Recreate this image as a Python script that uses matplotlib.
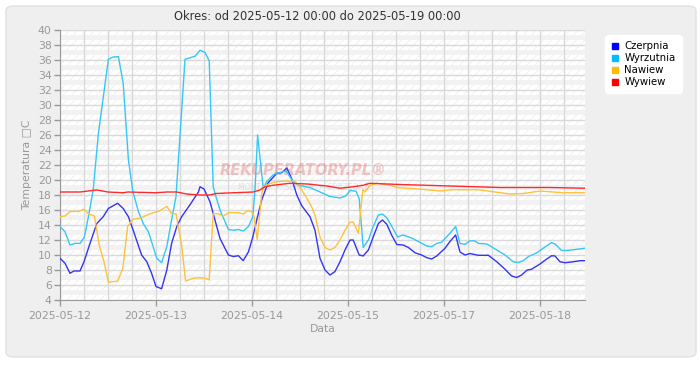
import matplotlib.pyplot as plt
from matplotlib.lines import Line2D
from matplotlib.patches import FancyBboxPatch, Rectangle

# x = hours from 2025-05-12 00:00 along the axis (05-16 has no data, so it is skipped)
czerpnia_h = [0, 1.25, 2.5, 3.5, 5, 6, 7.5, 9.2, 10.8, 12.1, 14.4, 15.8, 17.1, 18.3,
              20.4, 21.7, 22.9, 24, 25.4, 26.7, 27.9, 29.2, 30.4, 32.5, 34.6, 35, 36,
              37.5, 40, 42.1, 43.3, 44.6, 45.8, 47.1, 48.2, 49.2, 50.4, 52, 54.2, 55.5,
              56.7, 57.9, 59.2, 60.4, 62.5, 63.75, 65, 66.25, 67.5, 68.75, 70, 71.25,
              72.5, 73.3, 74.8, 75.8, 77.1, 78.3, 79.6, 80.6, 81.7, 82.9, 84.2, 85.8,
              87.1, 88.75, 90.4, 91.7, 92.9, 94.2, 96.25, 97.5, 98.9, 100, 101.25,
              102.5, 104.6, 107.1, 109.2, 111.25, 112.9, 114.2, 115.4, 116.8, 117.9,
              120, 121.7, 122.9, 123.75, 125, 126.25, 128.3, 130, 131.25]
czerpnia = [9.56, 8.9, 7.56, 7.87, 7.87, 9.1, 11.55, 14.2, 15.1, 16.2, 16.9, 16.2, 15.1,
            13.3, 10.0, 9.1, 7.56, 5.8, 5.5, 8.0, 11.55, 13.8, 15.1, 16.7, 18.4, 19.1,
            18.8, 17.1, 12.2, 10.0, 9.8, 9.9, 9.25, 10.4, 12.4, 14.7, 17.3, 19.6, 20.9,
            21.0, 21.6, 20.2, 18.0, 16.6, 15.1, 13.3, 9.56, 8.0, 7.33, 7.8, 9.1, 10.67,
            12.0, 12.0, 10.0, 9.87, 10.67, 12.4, 14.2, 14.67, 14.1, 12.67, 11.4, 11.33,
            11.0, 10.3, 10.0, 9.64, 9.47, 9.87, 10.9, 11.8, 12.67, 10.4, 10.0, 10.2,
            9.96, 9.96, 9.1, 8.1, 7.2, 7.0, 7.33, 8.0, 8.1, 8.8, 9.47, 9.9, 9.87, 9.1,
            8.97, 9.1, 9.24, 9.24]

wyrzutnia_h = [0, 1.25, 2.5, 3.75, 5, 6.1, 7.1, 8.3, 9.6, 12.1, 13.3, 14.6, 15.8, 17.1,
               18.2, 19.6, 20.8, 22.1, 24.2, 25.4, 26.7, 27.9, 29, 31.25, 33.75, 35,
               36.25, 37.3, 38.3, 38.75, 40, 42.1, 43.3, 44.6, 45.8, 47.1, 48.2, 48.75,
               49.4, 50.8, 51.7, 53.3, 55, 56.5, 58, 59.5, 62.5, 65, 67.5, 70, 71.5,
               72.5, 74, 74.8, 75.8, 77.1, 78.3, 79.6, 80.6, 81.8, 83.2, 84.4, 85.7,
               87.5, 89.6, 91.7, 92.9, 94.2, 95.4, 97.5, 98.9, 100, 101.25, 102.5,
               103.75, 104.6, 106.7, 109.2, 111.25, 113.3, 114.6, 115.8, 117.1, 119.2,
               120.8, 122.9, 123.75, 125.4, 126.7, 129.2, 131.25]
wyrzutnia = [13.8, 13.1, 11.33, 11.55, 11.55, 12.4, 15.1, 18.7, 26.2, 36.1, 36.4, 36.45,
             32.9, 22.7, 18.5, 15.8, 14.2, 13.1, 9.56, 8.98, 11.1, 14.7, 17.8, 36.1,
             36.5, 37.3, 37.0, 35.9, 19.1, 18.2, 16.0, 13.4, 13.3, 13.4, 13.2, 13.8,
             15.1, 18.7, 26.0, 18.9, 19.8, 20.7, 21.0, 21.2, 20.0, 19.3, 19.0, 18.4,
             17.8, 17.6, 17.9, 18.6, 18.5, 17.5, 11.0, 12.0, 13.8, 15.33, 15.47, 14.9,
             13.56, 12.4, 12.67, 12.36, 11.8, 11.2, 11.1, 11.55, 11.7, 12.9, 13.8,
             11.55, 11.4, 11.9, 11.87, 11.55, 11.47, 10.67, 10.0, 9.1, 9.0, 9.24, 9.78,
             10.3, 10.9, 11.65, 11.47, 10.6, 10.6, 10.76, 10.9]

nawiew_h = [0, 1.25, 2.5, 4.6, 6, 7.1, 8.6, 9.8, 11, 12.1, 14.4, 15.7, 16.9, 18.2, 20,
            22.5, 25, 26.7, 27.9, 29, 30.4, 31.4, 33.3, 35, 36.25, 37.3, 38.3, 39.6,
            40.8, 42.1, 44.6, 45.8, 46.8, 47.9, 48.5, 49.3, 50.4, 50.8, 53.3, 56.25,
            58.75, 59.6, 60.4, 61.7, 62.9, 63.75, 65, 66.25, 67.5, 68.75, 70, 71.25,
            72.5, 73.3, 74.6, 75.7, 76.25, 77.5, 79.2, 82.5, 84.2, 91.7, 95, 98,
            104.6, 112.5, 115.8, 120, 123.3, 125.8, 131.25]
nawiew = [15.1, 15.2, 15.8, 15.8, 16.1, 15.5, 15.2, 11.33, 9.1, 6.36, 6.53, 8.2, 13.8,
          14.76, 14.9, 15.5, 15.9, 16.5, 15.5, 15.5, 11.33, 6.53, 6.9, 6.97, 6.9, 6.67,
          15.56, 15.47, 15.2, 15.64, 15.64, 15.47, 15.9, 15.8, 15.1, 12.1, 18.0, 19.1,
          19.7, 19.87, 19.8, 19.3, 18.7, 17.56, 16.44, 15.33, 12.4, 11.0, 10.67, 11.0,
          12.0, 13.3, 14.4, 14.4, 12.9, 18.7, 18.4, 19.3, 19.56, 19.3, 19.0, 18.7,
          18.53, 18.7, 18.7, 18.13, 18.2, 18.53, 18.4, 18.3, 18.3]

wywiew_h = [0, 5, 9.2, 12, 15.8, 17, 24, 26.7, 29.2, 31.7, 35, 37.5, 39, 43.3, 48.3, 50,
            51.25, 53.3, 57.5, 61.7, 66.7, 70, 73.3, 75.8, 77.5, 85, 97.5, 110, 122.5,
            131.25]
wywiew = [18.4, 18.4, 18.67, 18.4, 18.3, 18.4, 18.3, 18.4, 18.4, 18.13, 18.0, 18.0, 18.2,
          18.3, 18.4, 18.67, 19.1, 19.3, 19.56, 19.47, 19.2, 18.9, 19.1, 19.3, 19.56,
          19.4, 19.2, 19.0, 19.0, 18.9]

day_pos = [0, 24, 48, 72, 96, 120]
day_labels = ["2025-05-12", "2025-05-13", "2025-05-14", "2025-05-15", "2025-05-17", "2025-05-18"]

series = [
    ("Czerpnia", czerpnia_h, czerpnia, "#3434f4", "#0000ff"),
    ("Wyrzutnia", wyrzutnia_h, wyrzutnia, "#33c8f8", "#00bfff"),
    ("Nawiew", nawiew_h, nawiew, "#ffc23a", "#ffbf00"),
    ("Wywiew", wywiew_h, wywiew, "#ff2a2a", "#ff0000"),
]

plt.rcParams["hatch.linewidth"] = 0.5
plt.rcParams["hatch.color"] = "#ececec"

fig = plt.figure(figsize=(7, 3.8), dpi=100, facecolor="white")
W, H = 700, 380

panel = FancyBboxPatch((6 / W, 1 - 357 / H), 690 / W, 351 / H,
                       boxstyle="round,pad=0,rounding_size=0.012",
                       transform=fig.transFigure, facecolor="#efefef",
                       edgecolor="#e2e2e2", linewidth=1, zorder=-10)
fig.patches.append(panel)

ax = fig.add_axes([60 / W, 1 - 300 / H, 525 / W, 270 / H])
ax.set_zorder(5)
ax.set_facecolor("white")
ax.set_xlim(0, 131.25)
ax.set_ylim(4, 40)

# hatched background with lighter stripes between the gridlines
ax.add_patch(Rectangle((0, 4), 131.25, 36, facecolor="white", edgecolor="#ececec",
                       hatch="////", linewidth=0, zorder=0))
for v in range(5, 40, 2):
    ax.axhspan(v - 0.3, v + 0.3, color="#f2f2f2", lw=0, zorder=0.5)

ax.set_yticks(range(4, 41, 2))
ax.set_xticks(day_pos)
ax.set_xticklabels(day_labels)
ax.set_xticks(range(0, 132, 6), minor=True)
ax.grid(True, which="both", color="#d9d9d9", linewidth=1, zorder=1)
ax.set_axisbelow(True)

for name, hx, vals, col, _ in series:
    ax.plot(hx, vals, color=col, lw=1.0, zorder=3)

for s in ["top", "right"]:
    ax.spines[s].set_visible(False)
for s in ["left", "bottom"]:
    ax.spines[s].set_color("#999999")
ax.tick_params(axis="both", colors="#999999", labelcolor="#999999", labelsize=7.8,
               length=4, width=1)
ax.tick_params(axis="x", which="minor", length=0)
ax.tick_params(axis="x", pad=4)
ax.tick_params(axis="y", pad=2)

ax.set_xlabel("Data", color="#999999", fontsize=7.8, labelpad=2)
ax.set_ylabel("Temperatura \u25a1C", color="#999999", fontsize=7.8, labelpad=4)

# watermark
ax.text(0.463, 0.48, "REKUPERATORY.PL\u00ae", transform=ax.transAxes, ha="center",
        va="center", fontsize=10.5, fontweight="bold", fontstyle="italic",
        color="#e04a4a", alpha=0.3, zorder=2)
ax.text(0.463, 0.415, "MONTAŻ  •  SERWIS  •  SPRZEDAŻ", transform=ax.transAxes,
        ha="center", va="center", fontsize=5.5, color="#999999", alpha=0.25, zorder=2)

fig.text(317 / W, 1 - 16 / H, "Okres: od 2025-05-12 00:00 do 2025-05-19 00:00",
         ha="center", va="center", fontsize=8.3, color="#333333")

handles = [Line2D([], [], linestyle="none", marker="s", markersize=4.5,
                  markerfacecolor=lc, markeredgecolor=lc) for _, _, _, _, lc in series]
leg = fig.legend(handles, [s[0] for s in series], loc="upper left",
                 bbox_to_anchor=(600 / W, 1 - 30 / H), fontsize=7.3, frameon=True,
                 fancybox=True, handlelength=0.8, handletextpad=0.5,
                 labelspacing=0.2, borderpad=0.6, facecolor="white",
                 edgecolor="white", framealpha=1)
leg.get_frame().set_boxstyle("round,pad=0,rounding_size=0.4")

fig.savefig("out.png", dpi=100, facecolor="white")
